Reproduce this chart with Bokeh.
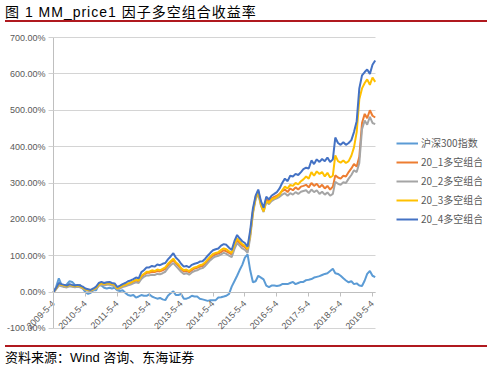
import pandas as pd
from math import pi
from bokeh.plotting import figure
from bokeh.models import (Range1d, LinearAxis, FixedTicker, SingleIntervalTicker,
                          CustomJSTickFormatter, PrintfTickFormatter, Legend, LegendItem, Div)
from bokeh.layouts import column
from bokeh.embed import file_html
from bokeh.resources import INLINE

title_text = "图 1 MM_price1 因子多空组合收益率"
source_text = "资料来源：Wind 咨询、东海证券"
series_names = ["沪深300指数", "20_1多空组合", "20_2多空组合", "20_3多空组合", "20_4多空组合"]
series_colors = ["#5B9BD5", "#ED7D31", "#A5A5A5", "#FFC000", "#4472C4"]
tick_labels = ["2009-5-4", "2010-5-4", "2011-5-4", "2012-5-4", "2013-5-4", "2014-5-4",
               "2015-5-4", "2016-5-4", "2017-5-4", "2018-5-4", "2019-5-4"]

# monthly observations starting 2009-05-04 (values in %)
dates = pd.date_range("2009-05-04", periods=122, freq=pd.DateOffset(months=1))

hs300 = [0, 15, 38, 20, 15, 22, 30, 28, 20, 18, 20, 10,
         0, -5, -2, 5, 5, 20, 18, 12, 10, 12, 10, 12,
         5, 3, 5, -2, -8, -10, -8, -15, -12, -8, -10, -10,
         -6, -12, -15, -18, -16, -20, -22, -10, -3, 2, -8, -8,
         -5, -18, -18, -15, -10, -12, -12, -18, -20, -22, -24, -22,
         -22, -22, -15, -14, -12, -10, -5, 15, 30, 45, 60, 75,
         95, 104, 60, 27, 30, 45, 40, 35, 18, 14, 18, 18,
         17, 18, 22, 22, 22, 25, 28, 22, 25, 28, 28, 33,
         34, 36, 40, 42, 44, 47, 50, 52, 58, 64, 52, 50,
         45, 38, 32, 27, 30, 22, 24, 18, 17, 32, 50, 58,
         45, 41]

p20_1 = [0, 10, 20, 18, 16, 15, 18, 17, 15, 17, 15, 12,
         8, 6, 4, 8, 12, 20, 23, 21, 23, 23, 21, 19,
         10, 13, 17, 19, 22, 25, 28, 32, 30, 42, 48, 53,
         53, 56, 55, 58, 57, 60, 64, 74, 82, 88, 80, 72,
         63, 57, 58, 55, 60, 65, 67, 70, 72, 78, 86, 94,
         100, 104, 106, 110, 115, 112, 108, 104, 125, 142, 135, 128,
         124, 115, 158, 222, 262, 278, 245, 228, 255, 250, 258, 262,
         265, 270, 278, 282, 275, 285, 280, 288, 282, 290, 292, 295,
         288, 300, 292, 298, 288, 295, 285, 292, 282, 290, 321, 315,
         312, 320, 318, 330, 340, 352, 345, 372, 465, 490, 478, 500,
         485, 480]

p20_2 = [0, 8, 18, 16, 14, 13, 16, 15, 13, 15, 13, 10,
         6, 4, 2, 6, 10, 17, 20, 18, 20, 20, 18, 16,
         7, 10, 14, 16, 19, 21, 24, 27, 25, 36, 42, 46,
         46, 48, 47, 50, 49, 52, 56, 66, 74, 80, 72, 64,
         56, 50, 52, 48, 54, 58, 60, 64, 66, 72, 80, 88,
         94, 98, 100, 104, 108, 105, 100, 96, 118, 135, 128, 120,
         116, 108, 150, 215, 255, 270, 238, 220, 248, 242, 250, 255,
         258, 262, 268, 272, 265, 272, 268, 275, 270, 276, 278, 280,
         272, 282, 275, 280, 270, 276, 268, 274, 265, 270, 303, 298,
         295, 302, 300, 312, 322, 335, 330, 355, 448, 472, 460, 482,
         465, 462]

p20_3 = [0, 10, 22, 20, 18, 16, 20, 18, 16, 18, 16, 12,
         8, 6, 5, 8, 12, 20, 24, 22, 24, 24, 22, 20,
         10, 14, 18, 20, 24, 26, 30, 34, 32, 45, 50, 56,
         56, 60, 58, 62, 60, 64, 68, 78, 85, 92, 82, 76,
         66, 60, 62, 58, 64, 68, 70, 74, 76, 82, 90, 98,
         105, 108, 110, 116, 120, 118, 112, 108, 130, 148, 140, 132,
         128, 118, 160, 220, 258, 275, 240, 222, 250, 245, 255, 258,
         262, 268, 280, 290, 285, 295, 292, 300, 296, 305, 310, 318,
         312, 330, 320, 332, 325, 330, 318, 328, 315, 320, 376, 360,
         356, 362, 355, 360, 375, 398, 440, 530, 560, 575, 585, 570,
         590, 578]

p20_4 = [0, 12, 25, 22, 20, 18, 22, 20, 18, 20, 18, 15,
         10, 8, 6, 10, 15, 25, 28, 25, 27, 28, 25, 24,
         14, 18, 22, 25, 30, 32, 36, 40, 38, 55, 60, 68,
         68, 72, 70, 76, 74, 78, 80, 90, 98, 107, 95, 88,
         78, 70, 72, 68, 75, 78, 80, 84, 85, 92, 100, 108,
         115, 118, 120, 128, 132, 130, 122, 116, 140, 157, 148, 140,
         135, 125, 170, 230, 265, 282, 250, 232, 262, 255, 265, 270,
         275, 285, 300, 312, 305, 320, 318, 325, 322, 330, 338, 342,
         340, 362, 352, 365, 358, 366, 360, 370, 358, 365, 425, 410,
         405, 412, 405, 410, 418, 440, 470, 560, 596, 605, 612, 600,
         625, 637]

series_values = [hs300, p20_1, p20_2, p20_3, p20_4]

FONT = "Liberation Sans"
GRAY_TXT = "#595959"

# horizontal layout (pixels): axis origin 47px into the frame, 2019-5-4 tick
# 319px further, plot area 322px wide, legend to the right inside the frame.
axis_origin = pd.Timestamp("2009-05-04")
last_tick = pd.Timestamp("2019-05-04")
px_per_day = 319.0 / (last_tick - axis_origin).days
x_start = axis_origin - pd.Timedelta(days=47 / px_per_day)
x_end = axis_origin + pd.Timedelta(days=429 / px_per_day)
area_end = axis_origin + pd.Timedelta(days=322 / px_per_day)
origin_ms = axis_origin.value / 1e6
area_end_ms = area_end.value / 1e6

p = figure(frame_width=476, frame_height=307,
           min_border_left=6, min_border_right=0, min_border_top=0, min_border_bottom=4,
           x_range=Range1d(x_start, x_end), y_range=Range1d(-122, 722),
           x_axis_location=None, y_axis_location=None,
           output_backend="svg", toolbar_location=None)
p.outline_line_color = None
p.background_fill_color = "white"
p.border_fill_color = "white"

# y axis drawn at the first date
yaxis = LinearAxis(fixed_location=origin_ms,
                   bounds=(-100, 700),
                   ticker=SingleIntervalTicker(interval=100),
                   formatter=PrintfTickFormatter(format="%.2f%%"),
                   major_label_text_font=FONT, major_label_text_font_size="9px",
                   major_label_text_color=GRAY_TXT,
                   axis_line_color="#BFBFBF", major_tick_line_color="#D0D0D0",
                   major_tick_out=5, major_tick_in=0, minor_tick_line_color=None,
                   major_label_standoff=3)
p.add_layout(yaxis, "left")

p.ygrid.ticker = SingleIntervalTicker(interval=100)
p.ygrid.grid_line_color = "#D4D4D4"
p.ygrid.grid_line_width = 1
p.ygrid.bounds = (-100, 700)
p.ygrid.cross_bounds = (origin_ms, area_end_ms)
p.xgrid.grid_line_color = None

# x axis crossing at 0
tick_ms = [pd.Timestamp(t).value / 1e6 for t in tick_labels]
xaxis = LinearAxis(fixed_location=0,
                   bounds=(origin_ms, area_end_ms),
                   ticker=FixedTicker(ticks=tick_ms),
                   formatter=CustomJSTickFormatter(args=dict(tvals=tick_ms, tnames=tick_labels),
                                                   code="const i = tvals.indexOf(tick); return i >= 0 ? tnames[i] : '';"),
                   major_label_orientation=pi / 4,
                   major_label_text_font=FONT,
                   major_label_text_font_size="9px",
                   major_label_text_color=GRAY_TXT,
                   axis_line_color="#BFBFBF",
                   major_tick_line_color="#BFBFBF",
                   major_tick_out=4, major_tick_in=0,
                   minor_tick_line_color=None,
                   major_label_standoff=6)
p.add_layout(xaxis, "below")

items = []
for name, vals, col in zip(series_names, series_values, series_colors):
    r = p.line(dates, vals, line_color=col, line_width=2)
    items.append(LegendItem(label=name, renderers=[r]))

legend = Legend(items=items, location=(390, 110), orientation="vertical",
                border_line_alpha=0, background_fill_alpha=0, padding=0, margin=0,
                spacing=4, glyph_width=22, glyph_height=14, label_height=14,
                label_standoff=3, label_text_font="Noto Sans CJK SC",
                label_text_font_size="10px", label_text_color=GRAY_TXT)
p.add_layout(legend)

title_div = Div(text=('<div style="font-family:\'Liberation Sans\',\'Noto Sans CJK SC\';'
                      'font-size:14px;letter-spacing:1px;line-height:15px;height:17px;width:482px;'
                      'border-bottom:2px solid #B0191F;color:#000;">' + title_text + '</div>'),
                width=482, height=19)
footer_div = Div(text=('<div style="font-family:\'Liberation Sans\',\'Noto Sans CJK SC\';'
                       'font-size:13px;line-height:15px;width:482px;padding-top:3px;'
                       'border-top:2px solid #B0191F;color:#000;">' + source_text + '</div>'),
                 width=482, height=20)

layout = column(title_div, p, footer_div, spacing=0)
open("out.html", "w").write(file_html(layout, INLINE))
